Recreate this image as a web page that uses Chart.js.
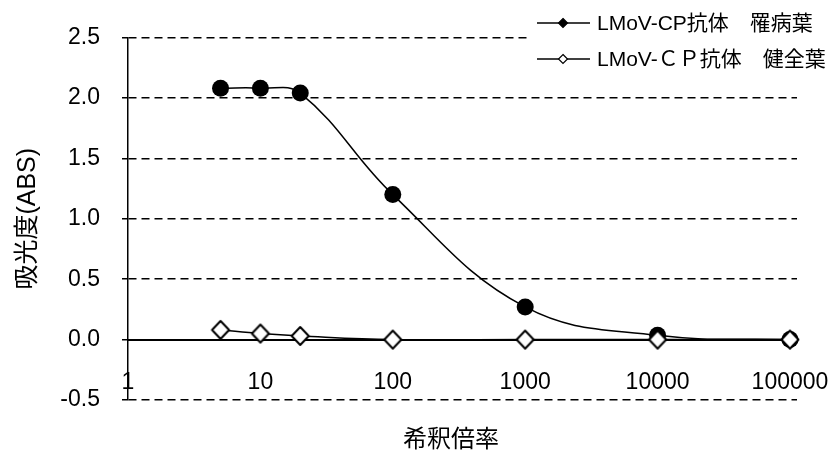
<!DOCTYPE html>
<html>
<head>
<meta charset="utf-8">
<script src="https://cdn.jsdelivr.net/npm/chart.js@4"></script>
<style>
  html, body { margin: 0; padding: 0; background: #fff; }
  #wrap { width: 836px; height: 455px; }
</style>
</head>
<body>
<div id="wrap"><canvas id="chart" width="836" height="455"></canvas></div>
<script>
const FONT = '"Liberation Sans", "Noto Sans CJK JP", sans-serif';

// dilution factors and absorbance readings
const dilutions = [5, 10, 20, 100, 1000, 10000, 100000];
const infected = [2.08, 2.08, 2.04, 1.20, 0.27, 0.035, 0.00];
const healthy = [0.08, 0.05, 0.03, 0.00, 0.00, 0.00, 0.00];
const seriesLabels = ["LMoV-CP抗体　罹病葉", "LMoV-ＣＰ抗体　健全葉"];
const xTicks = [1, 10, 100, 1000, 10000, 100000];
const yTicks = [-0.5, 0.0, 0.5, 1.0, 1.5, 2.0, 2.5];
const xTitle = "希釈倍率";
const yTitle = "吸光度(ABS)";

// open diamond marker
const openMarker = document.createElement("canvas");
openMarker.width = 22;
openMarker.height = 22;
(() => {
  const c = openMarker.getContext("2d");
  c.beginPath();
  c.moveTo(11, 2);
  c.lineTo(19.5, 11);
  c.lineTo(11, 20);
  c.lineTo(2.5, 11);
  c.closePath();
  c.fillStyle = "#fff";
  c.fill();
  c.lineJoin = "round";
  c.lineWidth = 2;
  c.strokeStyle = "#000";
  c.stroke();
})();

const legendAndTitle = {
  id: "legendAndTitle",
  afterDraw(chart) {
    const ctx = chart.ctx;
    ctx.save();
    // legend box sits over the plot
    ctx.fillStyle = "#fff";
    ctx.fillRect(528, 4, 308, 66);
    chart.data.datasets.forEach((ds, i) => {
      const y = 23 + i * 36;
      ctx.strokeStyle = "#000";
      ctx.lineWidth = 1.5;
      ctx.beginPath();
      ctx.moveTo(537, y);
      ctx.lineTo(590, y);
      ctx.stroke();
      ctx.beginPath();
      ctx.moveTo(563, y - 4.5);
      ctx.lineTo(567.5, y);
      ctx.lineTo(563, y + 4.5);
      ctx.lineTo(558.5, y);
      ctx.closePath();
      ctx.fillStyle = i === 0 ? "#000" : "#fff";
      ctx.fill();
      ctx.lineWidth = 1.2;
      ctx.stroke();
      ctx.fillStyle = "#000";
      ctx.font = "21px " + FONT;
      ctx.textAlign = "left";
      ctx.textBaseline = "middle";
      ctx.fillText(ds.label, 597, y + 1);
    });
    ctx.font = "24px " + FONT;
    ctx.textAlign = "center";
    ctx.textBaseline = "middle";
    ctx.fillText(xTitle, 451, 440);
    ctx.restore();
  }
};

new Chart(document.getElementById("chart"), {
  type: "line",
  data: {
    datasets: [
      {
        label: seriesLabels[0],
        data: dilutions.map((d, i) => ({ x: d, y: infected[i] })),
        borderColor: "#000",
        borderWidth: 1.5,
        backgroundColor: "#000",
        pointStyle: "circle",
        pointRadius: 8.5,
        pointBorderWidth: 0,
        tension: 0.4,
        clip: false,
        order: 1
      },
      {
        label: seriesLabels[1],
        data: dilutions.map((d, i) => ({ x: d, y: healthy[i] })),
        borderColor: "#000",
        borderWidth: 1.5,
        pointStyle: openMarker,
        tension: 0.4,
        clip: false,
        order: 0
      }
    ]
  },
  plugins: [legendAndTitle],
  options: {
    responsive: false,
    animation: false,
    events: [],
    layout: { padding: { top: 37.5, right: 39, bottom: 55, left: 0 } },
    plugins: { legend: { display: false }, tooltip: { enabled: false } },
    scales: {
      x: {
        type: "logarithmic",
        position: { y: 0 },
        min: 1,
        max: 113000,
        afterBuildTicks(scale) {
          scale.ticks = xTicks.map(v => ({ value: v }));
        },
        afterFit(scale) {
          scale.paddingLeft = 0;
          scale.paddingRight = 0;
        },
        grid: { display: false },
        border: { display: true, color: "#000", width: 2 },
        ticks: {
          color: "#000",
          padding: 21,
          maxRotation: 0,
          autoSkip: false,
          font: { family: FONT, size: 23 },
          callback: v => String(v)
        }
      },
      y: {
        min: -0.5,
        max: 2.5,
        afterBuildTicks(scale) {
          scale.ticks = yTicks.map(v => ({ value: v }));
        },
        afterFit(scale) {
          scale.width = 128;
        },
        grid: {
          color: ctx => (ctx.tick && ctx.tick.value === 0 ? "rgba(0,0,0,0)" : "#000"),
          lineWidth: 1.5,
          tickLength: 6,
          tickColor: "#000",
          tickBorderDash: []
        },
        border: { display: true, color: "#000", width: 1.5, dash: [8, 5] },
        ticks: {
          color: "#000",
          padding: 22,
          font: { family: FONT, size: 23 },
          callback: v => Number(v).toFixed(1)
        },
        title: {
          display: true,
          text: yTitle,
          color: "#000",
          padding: { top: 13 },
          font: { family: FONT, size: 25 }
        }
      }
    }
  }
});
</script>
</body>
</html>
